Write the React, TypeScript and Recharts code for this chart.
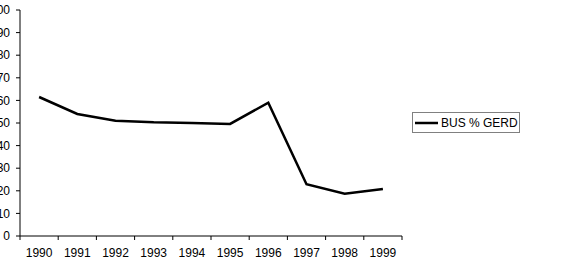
import { LineChart, Line, XAxis, YAxis, Legend } from 'recharts';

const years = ['1990', '1991', '1992', '1993', '1994', '1995', '1996', '1997', '1998', '1999'];
const busShare = [61.5, 54, 51, 50.3, 50, 49.6, 59, 22.9, 18.7, 20.8];
const yTicks = [0, 10, 20, 30, 40, 50, 60, 70, 80, 90, 100];
const bandEdges = [0, 1, 2, 3, 4, 5, 6, 7, 8, 9, 10];
const bandCentres = years.map((_, i) => i + 0.5);

const data = years.map((year, i) => ({ pos: i + 0.5, year, bus: busShare[i] }));

const font = '"Liberation Sans", Arial, sans-serif';

function BoxLegend({ payload }: any) {
  const item = payload && payload[0];
  return (
    <div
      style={{
        border: '1px solid #808080',
        height: 19,
        width: 106,
        display: 'flex',
        alignItems: 'center',
        overflow: 'hidden',
        whiteSpace: 'nowrap',
        fontFamily: font,
        fontSize: 12,
        color: '#000',
      }}
    >
      <svg width={27} height={19} style={{ flex: 'none' }}>
        <line x1={2} y1={10} x2={25} y2={10} stroke="#000" strokeWidth={2.5} />
      </svg>
      <span style={{ marginLeft: 1 }}>{item ? item.value : ''}</span>
    </div>
  );
}

export default function App() {
  return (
    <div style={{ position: 'absolute', left: 0, top: 0, background: '#fff' }}>
      <LineChart width={576} height={262} data={data} margin={{ top: 10, right: 174, bottom: 0, left: 0 }}>
        <XAxis
          xAxisId="edges"
          dataKey="pos"
          type="number"
          domain={[0, 10]}
          ticks={bandEdges}
          tickFormatter={() => ''}
          height={1}
          tickSize={4}
          stroke="#000"
          tickLine={{ stroke: '#000' }}
          interval={0}
        />
        <XAxis
          xAxisId="labels"
          dataKey="pos"
          type="number"
          domain={[0, 10]}
          ticks={bandCentres}
          tickFormatter={(v: number) => years[Math.floor(v)]}
          height={25}
          axisLine={false}
          tickLine={false}
          tickSize={4}
          tickMargin={7}
          interval={0}
          tick={{ fill: '#000', fontSize: 12, fontFamily: font }}
        />
        <YAxis
          domain={[0, 100]}
          ticks={yTicks}
          width={20}
          interval={0}
          tickSize={4}
          tickMargin={6}
          stroke="#000"
          tick={{ fill: '#000', fontSize: 12, fontFamily: font }}
        />
        <Legend
          layout="horizontal"
          verticalAlign="middle"
          align="center"
          content={<BoxLegend />}
          wrapperStyle={{ position: 'absolute', left: 412, top: 112, width: 108 }}
        />
        <Line
          xAxisId="labels"
          type="linear"
          dataKey="bus"
          name="BUS % GERD"
          stroke="#000"
          strokeWidth={2.5}
          dot={false}
          isAnimationActive={false}
        />
      </LineChart>
    </div>
  );
}
